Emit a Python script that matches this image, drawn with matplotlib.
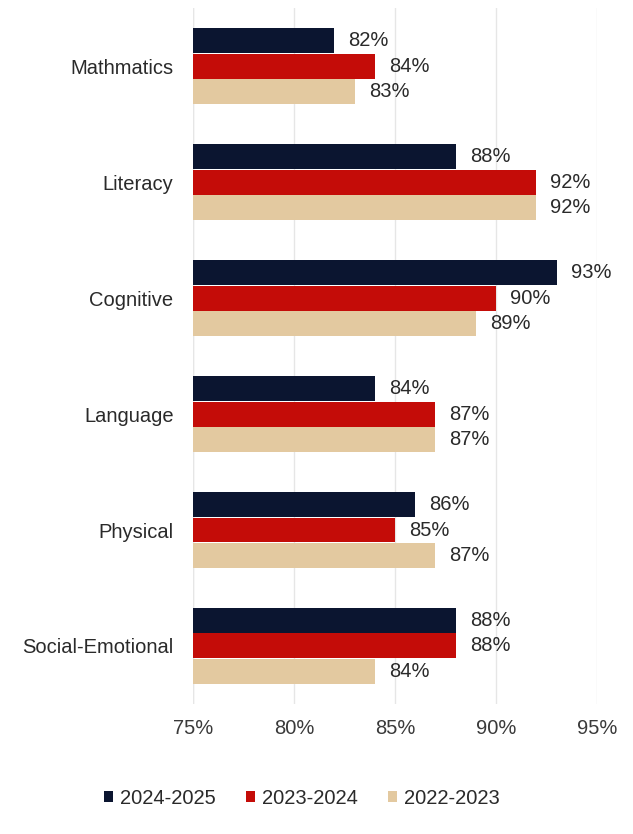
import numpy as np
import matplotlib
matplotlib.use("Agg")
import matplotlib.pyplot as plt

plt.rcParams['font.family'] = ['Liberation Sans', 'DejaVu Sans']

# data
categories = ["Mathmatics", "Literacy", "Cognitive", "Language", "Physical", "Social-Emotional"]
years = ["2024-2025", "2023-2024", "2022-2023"]
vals_2425 = [82, 88, 93, 84, 86, 88]
vals_2324 = [84, 92, 90, 87, 85, 88]
vals_2223 = [83, 92, 89, 87, 87, 84]
xticks = [75, 80, 85, 90, 95]

colors = ["#0b1530", "#c40c08", "#e3c9a0"]
series = [vals_2425, vals_2324, vals_2223]
offsets = [-0.22, 0.0, 0.22]
bar_h = 0.215
fs = 14.5

fig = plt.figure(figsize=(6.33, 8.34), dpi=100)
ax = fig.add_axes([0.305, 0.156, 0.638, 0.834])

y = np.arange(len(categories))
for vals, col, off, lab in zip(series, colors, offsets, years):
    left = 75
    widths = [v - left for v in vals]
    ax.barh(y + off, widths, left=left, height=bar_h, color=col, label=lab, zorder=3)
    for yi, v in zip(y, vals):
        ax.text(v + 0.7, yi + off, f"{v}%", va="center", ha="left",
                fontsize=fs, color="#2a2a2a", clip_on=False, zorder=4)

ax.set_xlim(75, 95)
ax.set_ylim(len(categories) - 0.5, -0.5)
ax.set_yticks(y)
ax.set_yticklabels(categories, fontsize=fs, color="#2a2a2a")
ax.set_xticks(xticks)
ax.set_xticklabels([f"{t}%" for t in xticks], fontsize=fs, color="#3a3a3a")
ax.tick_params(axis="both", length=0)
ax.tick_params(axis="y", pad=14)
ax.tick_params(axis="x", pad=11)

ax.grid(axis="x", color="#e6e6e6", linewidth=1, zorder=0)
for s in ax.spines.values():
    s.set_visible(False)
ax.axvline(75, color="#ebebeb", linewidth=1, zorder=0)

fig.legend(loc="lower center", bbox_to_anchor=(0.477, 0.01), ncol=3, frameon=False,
           fontsize=fs, handlelength=0.45, handleheight=0.45, handletextpad=0.35,
           columnspacing=1.5, labelcolor="#2a2a2a")

fig.savefig("out.png", dpi=100)
